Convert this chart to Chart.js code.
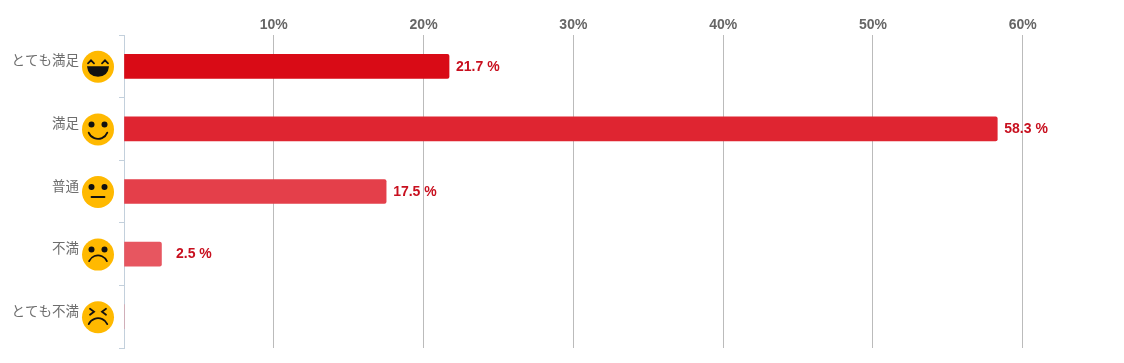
<!DOCTYPE html>
<html lang="ja">
<head>
<meta charset="utf-8">
<title>満足度</title>
<style>
  html, body { margin: 0; background: #fff; }
  canvas { display: block; }
</style>
<script src="https://cdn.jsdelivr.net/npm/chart.js@4/dist/chart.umd.min.js"></script>
</head>
<body>
<canvas id="satisfactionChart" width="1124" height="363"></canvas>
<script>
const categories = ['とても満足', '満足', '普通', '不満', 'とても不満'];
const percents = [21.7, 58.3, 17.5, 2.5, 0];
const barColors = ['#d90b16', '#df2531', '#e43f4a', '#e75660', '#ea6d75'];
const faces = ['laugh', 'smile', 'neutral', 'sad', 'upset'];
const xTicks = [10, 20, 30, 40, 50, 60];

const FACE_YELLOW = '#ffb900';
const INK = '#111';

function drawEyes(ctx, x, y) {
    ctx.fillStyle = INK;
    [-6.5, 6.5].forEach(dx => {
        ctx.beginPath();
        ctx.arc(x + dx, y - 5, 3, 0, Math.PI * 2);
        ctx.fill();
    });
}

function drawFace(ctx, kind, x, y) {
    ctx.save();
    ctx.fillStyle = FACE_YELLOW;
    ctx.beginPath();
    ctx.arc(x, y, 16, 0, Math.PI * 2);
    ctx.fill();

    ctx.strokeStyle = INK;
    ctx.fillStyle = INK;
    ctx.lineWidth = 1.8;
    ctx.lineCap = 'round';

    if (kind === 'laugh') {
        [-7, 7].forEach(dx => {
            ctx.beginPath();
            ctx.moveTo(x + dx - 3, y - 3.5);
            ctx.lineTo(x + dx, y - 6.5);
            ctx.lineTo(x + dx + 3, y - 3.5);
            ctx.stroke();
        });
        ctx.beginPath();
        ctx.moveTo(x - 11, y - 0.5);
        ctx.lineTo(x + 11, y - 0.5);
        ctx.quadraticCurveTo(x + 10, y + 10, x, y + 10);
        ctx.quadraticCurveTo(x - 10, y + 10, x - 11, y - 0.5);
        ctx.fill();
    } else if (kind === 'smile') {
        drawEyes(ctx, x, y);
        ctx.beginPath();
        ctx.arc(x, y - 0.5, 10, Math.PI * 0.12, Math.PI * 0.88);
        ctx.stroke();
    } else if (kind === 'neutral') {
        drawEyes(ctx, x, y);
        ctx.beginPath();
        ctx.moveTo(x - 6.5, y + 5);
        ctx.lineTo(x + 6.5, y + 5);
        ctx.stroke();
    } else if (kind === 'sad') {
        drawEyes(ctx, x, y);
        ctx.beginPath();
        ctx.arc(x, y + 10.5, 9.75, Math.PI * 1.134, Math.PI * 1.866);
        ctx.stroke();
    } else {
        ctx.beginPath();
        ctx.moveTo(x - 8, y - 8.5);
        ctx.lineTo(x - 4, y - 5.5);
        ctx.lineTo(x - 8, y - 2.5);
        ctx.moveTo(x + 8, y - 8.5);
        ctx.lineTo(x + 4, y - 5.5);
        ctx.lineTo(x + 8, y - 2.5);
        ctx.stroke();
        ctx.beginPath();
        ctx.arc(x, y + 11.25, 10.25, Math.PI * 1.14, Math.PI * 1.86);
        ctx.stroke();
    }
    ctx.restore();
}

// faces sit between the category names and the axis
const facePlugin = {
    id: 'faces',
    afterDraw(chart) {
        const yScale = chart.scales.y;
        faces.forEach((kind, i) => {
            drawFace(chart.ctx, kind, yScale.right - 26, yScale.getPixelForValue(i) + 0.5);
        });
    }
};

const valueLabelPlugin = {
    id: 'valueLabels',
    afterDatasetsDraw(chart) {
        const { ctx, scales } = chart;
        ctx.save();
        ctx.font = 'bold 14px "Liberation Sans", Arial, sans-serif';
        ctx.fillStyle = '#c8101f';
        ctx.textAlign = 'left';
        ctx.textBaseline = 'middle';
        percents.forEach((v, i) => {
            if (!v) return;
            const end = scales.x.getPixelForValue(v);
            const x = Math.max(end + 7, scales.x.left + 52);
            ctx.fillText(v.toFixed(1) + ' %', x, scales.y.getPixelForValue(i) + 0.5);
        });
        ctx.restore();
    }
};

new Chart(document.getElementById('satisfactionChart'), {
    type: 'bar',
    data: {
        labels: categories,
        datasets: [{
            data: percents,
            backgroundColor: barColors,
            barThickness: 24,
            borderRadius: { topLeft: 0, bottomLeft: 0, topRight: 2, bottomRight: 2 },
            borderSkipped: false
        }]
    },
    options: {
        indexAxis: 'y',
        responsive: false,
        animation: false,
        layout: { padding: { bottom: 15 } },
        plugins: {
            legend: { display: false },
            tooltip: { enabled: false }
        },
        scales: {
            x: {
                position: 'top',
                min: 0,
                max: 66.76,
                afterFit(scale) { scale.height = 35; },
                afterBuildTicks(scale) {
                    scale.ticks = [0].concat(xTicks).map(value => ({ value }));
                },
                border: { display: false },
                grid: {
                    drawTicks: false,
                    color: ctx => ctx.tick && ctx.tick.value === 0 ? 'rgba(0,0,0,0)' : '#bbbbbb'
                },
                ticks: {
                    padding: 1,
                    color: '#666666',
                    font: { family: '"Liberation Sans", Arial, sans-serif', size: 14, weight: 'bold' },
                    maxRotation: 0,
                    callback: value => value === 0 ? '' : value + '%'
                }
            },
            y: {
                afterFit(scale) {
                    scale.width = 124;
                    // the wide tick padding must not eat into the plot height
                    scale.paddingTop = 0;
                    scale.paddingBottom = 0;
                },
                border: { color: '#c3d0dc', width: 1 },
                grid: { drawOnChartArea: false, tickLength: 5, tickColor: '#c3d0dc', offset: true },
                ticks: {
                    padding: 40,
                    labelOffset: -6,
                    color: '#6e6e6e',
                    font: { family: '"Noto Sans CJK JP", sans-serif', size: 13.5 }
                }
            }
        }
    },
    plugins: [valueLabelPlugin, facePlugin]
});
</script>
</body>
</html>
